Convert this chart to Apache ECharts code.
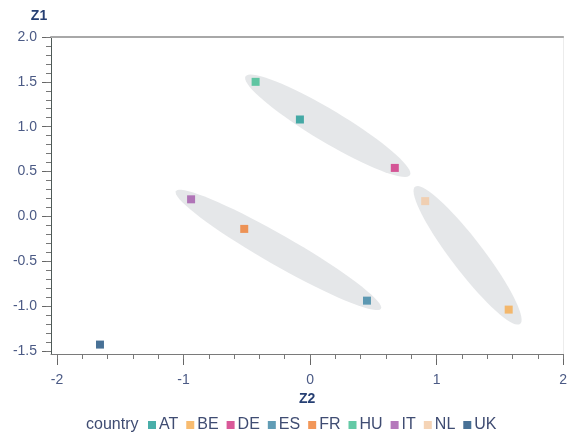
<!DOCTYPE html>
<html>
<head>
<meta charset="UTF-8">
<title>Z1 / Z2 scatter</title>
<script src="https://cdn.jsdelivr.net/npm/echarts@6.0.0/dist/echarts.min.js"></script>
<style>
  html, body { margin: 0; padding: 0; background: #fff; }
  #chart { width: 570px; height: 436px; }
</style>
</head>
<body>
<div id="chart"></div>
<script>
// countries and their (Z2, Z1) scores
var countries = ['AT', 'BE', 'DE', 'ES', 'FR', 'HU', 'IT', 'NL', 'UK'];
var z2Values = [-0.08, 1.57, 0.67, 0.45, -0.52, -0.43, -0.94, 0.91, -1.66];
var z1Values = [1.08, -1.04, 0.54, -0.94, -0.14, 1.50, 0.19, 0.17, -1.43];
var colors = ['#1b9a94', '#f6ab4c', '#d0307f', '#3a84a4', '#ef7d30', '#3dbd90', '#a257aa', '#f3c9a4', '#1a4d7c'];

// cluster ellipses, given by their two tips [z2a, z1a, z2b, z1b]
var clusterTips = [
  [-0.51, 1.56, 0.79, 0.46],
  [-1.06, 0.28, 0.56, -1.03],
  [0.83, 0.33, 1.66, -1.20]
];
var clusterHalfWidth = [16, 15, 16];

// axis ticks
var xTicks = [-2, -1, 0, 1, 2];
var yTicks = [-1.5, -1.0, -0.5, 0.0, 0.5, 1.0, 1.5, 2.0];
var xMinorTicks = [];
for (var i = -10; i <= 10; i++) xMinorTicks.push(Math.round(i * 2) / 10);
var yMinorTicks = [];
for (var j = -15; j <= 20; j++) yMinorTicks.push(j / 10);

var X_MIN = -2.047, X_MAX = 2.0, Y_MIN = -1.535, Y_MAX = 2.0;
var labelColor = '#4b5a85';
var font = 'Liberation Sans, Arial, sans-serif';

var myChart = echarts.init(document.getElementById('chart'));

var series = [{
  type: 'custom',
  name: 'clusters',
  silent: true,
  clip: false,
  z: 1,
  data: clusterTips,
  encode: { x: [0, 2], y: [1, 3] },
  renderItem: function (params, api) {
    var p1 = api.coord([api.value(0), api.value(1)]);
    var p2 = api.coord([api.value(2), api.value(3)]);
    var cx = (p1[0] + p2[0]) / 2, cy = (p1[1] + p2[1]) / 2;
    var a = Math.sqrt(Math.pow(p2[0] - p1[0], 2) + Math.pow(p2[1] - p1[1], 2)) / 2;
    var b = clusterHalfWidth[params.dataIndex];
    var ang = Math.atan2(p2[1] - p1[1], p2[0] - p1[0]);
    var pts = [];
    for (var k = 0; k < 72; k++) {
      var t = k / 72 * Math.PI * 2;
      var ex = a * Math.cos(t), ey = b * Math.sin(t);
      pts.push([cx + ex * Math.cos(ang) - ey * Math.sin(ang), cy + ex * Math.sin(ang) + ey * Math.cos(ang)]);
    }
    return {
      type: 'polygon',
      shape: { points: pts },
      style: { fill: '#e5e7e9', stroke: null }
    };
  }
}];

countries.forEach(function (c, idx) {
  series.push({
    type: 'scatter',
    name: c,
    symbol: 'rect',
    symbolSize: 8,
    z: 3,
    itemStyle: { color: colors[idx] },
    data: [[z2Values[idx], z1Values[idx]]]
  });
});

var option = {
  animation: false,
  backgroundColor: '#fff',
  textStyle: { fontFamily: font },
  grid: { left: 51, top: 37, right: 4, bottom: 82, containLabel: false },
  legend: {
    data: countries,
    left: 143,
    bottom: -2,
    icon: 'rect',
    itemWidth: 8,
    itemHeight: 8,
    itemGap: 8,
    textStyle: { color: '#3f4c72', fontSize: 16, fontFamily: font, padding: [0, 0, 0, -2] }
  },
  graphic: [{
    type: 'text',
    left: 86,
    bottom: 3,
    style: { text: 'country', fill: '#3f4c72', font: '16px ' + font }
  }],
  xAxis: [{
    type: 'value',
    position: 'bottom',
    min: X_MIN,
    max: X_MAX,
    name: 'Z2',
    nameLocation: 'middle',
    nameGap: 37,
    nameTextStyle: { color: '#263f73', fontWeight: 'bold', fontSize: 14, fontFamily: font },
    axisLine: { show: true, onZero: false, lineStyle: { color: '#7a7a7a', width: 1 } },
    axisTick: { show: true, customValues: xTicks, length: 11, lineStyle: { color: '#666' } },
    axisLabel: { customValues: xTicks, margin: 19, color: labelColor, fontSize: 14, fontFamily: font },
    splitLine: { show: false }
  }, {
    type: 'value',
    position: 'bottom',
    min: X_MIN,
    max: X_MAX,
    axisLine: { show: false, onZero: false },
    axisTick: { show: true, customValues: xMinorTicks, length: 5, lineStyle: { color: '#777' } },
    axisLabel: { show: false },
    splitLine: { show: false }
  }, {
    type: 'value',
    position: 'top',
    min: X_MIN,
    max: X_MAX,
    axisLine: { show: true, onZero: false, lineStyle: { color: '#a8a8a8', width: 2 } },
    axisTick: { show: false },
    axisLabel: { show: false },
    splitLine: { show: false }
  }],
  yAxis: [{
    type: 'value',
    position: 'left',
    min: Y_MIN,
    max: Y_MAX,
    name: 'Z1',
    nameLocation: 'end',
    nameGap: 14,
    nameTextStyle: { color: '#263f73', fontWeight: 'bold', fontSize: 14, fontFamily: font, padding: [0, 24, 0, 0] },
    axisLine: { show: true, onZero: false, lineStyle: { color: '#4f5a58', width: 1 } },
    axisTick: { show: true, customValues: yTicks, length: 9, lineStyle: { color: '#666' } },
    axisLabel: {
      customValues: yTicks, margin: 14, color: labelColor, fontSize: 14, fontFamily: font,
      padding: [3, 0, 0, 0],
      formatter: function (v) { return v.toFixed(1); }
    },
    splitLine: { show: false }
  }, {
    type: 'value',
    position: 'left',
    min: Y_MIN,
    max: Y_MAX,
    axisLine: { show: false, onZero: false },
    axisTick: { show: true, customValues: yMinorTicks, length: 5, lineStyle: { color: '#777' } },
    axisLabel: { show: false },
    splitLine: { show: false }
  }, {
    type: 'value',
    position: 'right',
    min: Y_MIN,
    max: Y_MAX,
    axisLine: { show: true, onZero: false, lineStyle: { color: '#ececec', width: 1 } },
    axisTick: { show: false },
    axisLabel: { show: false },
    splitLine: { show: false }
  }],
  series: series
};

myChart.setOption(option);
</script>
</body>
</html>
